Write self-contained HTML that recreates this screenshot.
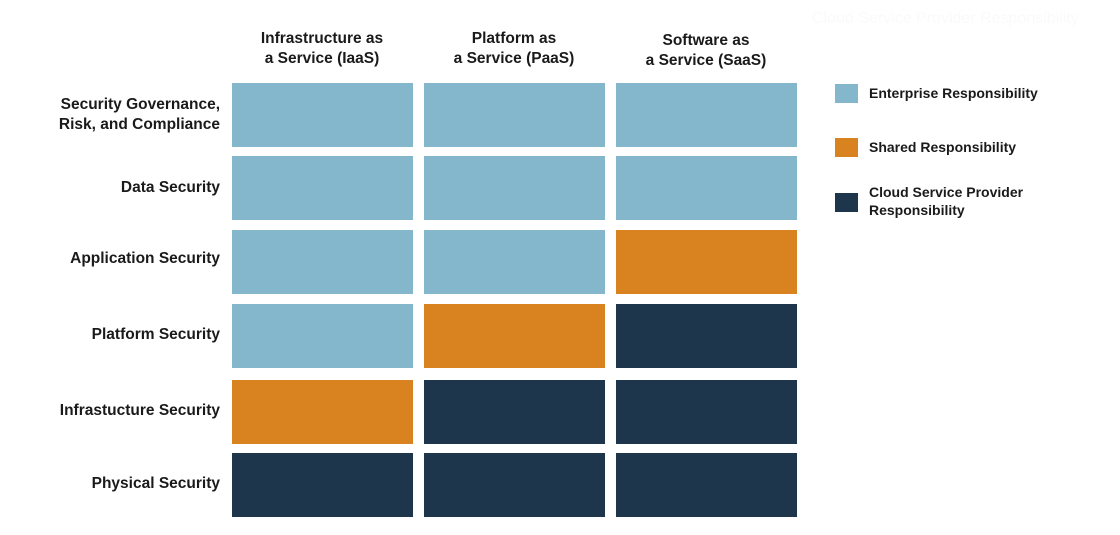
<!DOCTYPE html>
<html><head><meta charset="utf-8"><style>
body{margin:0;width:1120px;height:535px;background:#fff;position:relative;overflow:hidden;font-family:"Liberation Sans",sans-serif;color:#1a1a1a}
.c{position:absolute;width:181px;height:64px}
.L{background:#84b7cc}.S{background:#d98220}.D{background:#1e364b}
.h{position:absolute;text-align:center;font-size:15.5px;line-height:20px;width:200px;font-weight:bold}
.r{position:absolute;right:900px;text-align:right;font-size:15.5px;line-height:20px;white-space:nowrap;font-weight:bold}
.sq{position:absolute;left:835px;width:23px;height:19px}
.lt{position:absolute;left:869px;font-size:14px;line-height:18px;font-weight:bold}
</style></head><body>
<div style="position:absolute;left:812px;top:10px;font-size:16px;color:#fafafa">Cloud Service Provider Responsibility</div>
<div class="h" style="left:222px;top:29px">Infrastructure as<br>a Service (IaaS)</div>
<div class="h" style="left:414px;top:29px">Platform as<br>a Service (PaaS)</div>
<div class="h" style="left:606px;top:31px">Software as<br>a Service (SaaS)</div>
<div class="r" style="top:95px">Security Governance,<br>Risk, and Compliance</div>
<div class="r" style="top:178px">Data Security</div>
<div class="r" style="top:249px">Application Security</div>
<div class="r" style="top:325px">Platform Security</div>
<div class="r" style="top:401px">Infrastucture Security</div>
<div class="r" style="top:474px">Physical Security</div>

<div class="c L" style="left:232px;top:83px"></div><div class="c L" style="left:424px;top:83px"></div><div class="c L" style="left:616px;top:83px"></div>
<div class="c L" style="left:232px;top:156px"></div><div class="c L" style="left:424px;top:156px"></div><div class="c L" style="left:616px;top:156px"></div>
<div class="c L" style="left:232px;top:230px"></div><div class="c L" style="left:424px;top:230px"></div><div class="c S" style="left:616px;top:230px"></div>
<div class="c L" style="left:232px;top:304px"></div><div class="c S" style="left:424px;top:304px"></div><div class="c D" style="left:616px;top:304px"></div>
<div class="c S" style="left:232px;top:380px"></div><div class="c D" style="left:424px;top:380px"></div><div class="c D" style="left:616px;top:380px"></div>
<div class="c D" style="left:232px;top:453px"></div><div class="c D" style="left:424px;top:453px"></div><div class="c D" style="left:616px;top:453px"></div>

<div class="sq L" style="top:84px"></div><div class="lt" style="top:84px">Enterprise Responsibility</div>
<div class="sq S" style="top:138px"></div><div class="lt" style="top:138px">Shared Responsibility</div>
<div class="sq D" style="top:193px"></div><div class="lt" style="top:183px">Cloud Service Provider<br>Responsibility</div>
</body></html>
